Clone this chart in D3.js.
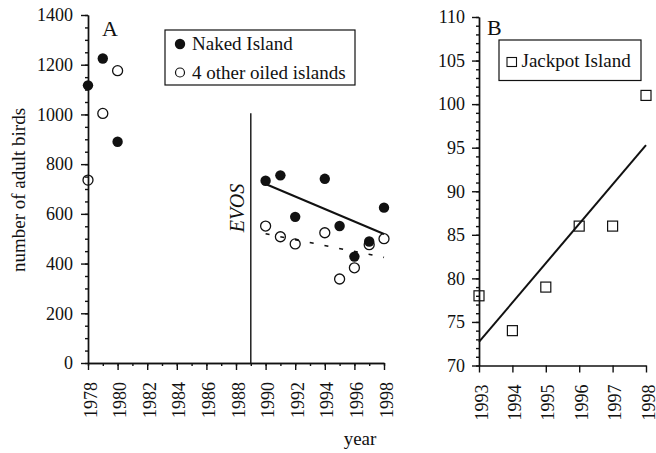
<!DOCTYPE html>
<html>
<head>
<meta charset="utf-8">
<script src="https://cdn.jsdelivr.net/npm/d3@7"></script>
<style>
  body { margin: 0; background: #fff; }
  svg text { font-family: "Liberation Serif", "Times New Roman", serif; }
  .axis path, .axis line { stroke: #111; stroke-width: 1.4; }
</style>
</head>
<body>
<div id="viz"></div>
<script>
"use strict";

// panel A: colony counts
const yearsA = [1978, 1979, 1980, 1990, 1991, 1992, 1994, 1995, 1996, 1997, 1998];
const nakedIsland = [1117, 1225, 890, 733, 755, 588, 741, 551, 428, 489, 625];
const otherOiled = [736, 1004, 1176, 551, 508, 479, 524, 338, 383, 476, 500];
const fitYearsA = [1990, 1998];
const nakedFit = [720, 519];
const otherFit = [520, 425];
const evosYear = 1989;
const evosTop = 1005;
const xTicksA = [1978, 1980, 1982, 1984, 1986, 1988, 1990, 1992, 1994, 1996, 1998];
const yTicksA = [0, 200, 400, 600, 800, 1000, 1200, 1400];

// panel B: Jackpot Island
const yearsB = [1993, 1994, 1995, 1996, 1997, 1998];
const jackpot = [78, 74, 79, 86, 86, 101];
const fitYearsB = [1993, 1998];
const jackpotFit = [72.7, 95.3];
const yTicksB = [70, 75, 80, 85, 90, 95, 100, 105, 110];

const serif = '"Liberation Serif", "Times New Roman", serif';

let width = 656;
let height = 453;

let svg = d3.select('#viz')
            .append('svg')
            .attr('width', width)
            .attr('height', height)
            .attr('font-family', serif);

// scales
let xA = d3.scaleLinear().domain([1978, 1998]).range([88, 384]);
let yA = d3.scaleLinear().domain([0, 1400]).range([363, 15]);
let xB = d3.scaleLinear().domain([1993, 1998]).range([479, 646]);
let yB = d3.scaleLinear().domain([70, 110]).range([365.5, 17]);

function rotateLabels(g) {
    g.selectAll('text')
     .attr('transform', 'rotate(-90)')
     .attr('text-anchor', 'end')
     .attr('x', -19)
     .attr('y', 0)
     .attr('dy', '0.45em');
}

function axisG(tx, ty) {
    return svg.append('g').attr('class', 'axis')
              .attr('transform', `translate(${tx},${ty})`);
}

// ----- panel A axes -----
axisG(0, 363)
   .call(d3.axisBottom(xA).tickValues(d3.range(1978, 1999, 1)).tickSize(3).tickSizeOuter(0).tickFormat(''));
axisG(0, 363)
   .call(d3.axisBottom(xA).tickValues(xTicksA).tickSize(7).tickSizeOuter(0).tickFormat(d3.format('d')))
   .call(rotateLabels);
axisG(88, 0)
   .call(d3.axisLeft(yA).tickValues(d3.range(0, 1401, 50)).tickSize(3).tickSizeOuter(0).tickFormat(''));
axisG(88, 0)
   .call(d3.axisLeft(yA).tickValues(yTicksA).tickSize(7).tickPadding(8).tickSizeOuter(0).tickFormat(d3.format('d')));

// ----- panel B axes -----
axisG(0, 365.5)
   .call(d3.axisBottom(xB).tickValues(yearsB).tickSize(7).tickSizeOuter(0).tickFormat(d3.format('d')))
   .call(rotateLabels);
axisG(479, 0)
   .call(d3.axisLeft(yB).tickValues(d3.range(70, 111, 1)).tickSize(3).tickSizeOuter(0).tickFormat(''));
axisG(479, 0)
   .call(d3.axisLeft(yB).tickValues(yTicksB).tickSize(7).tickPadding(7).tickSizeOuter(0).tickFormat(d3.format('d')));

svg.selectAll('.axis')
   .attr('font-family', serif)
   .attr('font-size', 18);
svg.selectAll('.axis text')
   .style('font-family', serif)
   .style('font-size', '18px')
   .attr('fill', '#111');
svg.selectAll('.axis .domain').attr('stroke-width', 1.6);

// EVOS marker
svg.append('line')
   .attr('x1', xA(evosYear)).attr('x2', xA(evosYear))
   .attr('y1', yA(0)).attr('y2', yA(evosTop))
   .attr('stroke', '#111').attr('stroke-width', 1.4);
svg.append('text')
   .attr('transform', `translate(${xA(evosYear) - 7},${yA(0) - 155}) rotate(-90)`)
   .attr('text-anchor', 'middle')
   .attr('font-size', '20px')
   .attr('font-style', 'italic')
   .attr('fill', '#111')
   .text('EVOS');

// regression lines, panel A
let lineA = d3.line().x(d => xA(d[0])).y(d => yA(d[1]));
svg.append('path')
   .attr('d', lineA(d3.zip(fitYearsA, nakedFit)))
   .attr('fill', 'none').attr('stroke', '#111').attr('stroke-width', 2);

// points, panel A
let ptsA = yearsA.map((y, i) => ({year: y, naked: nakedIsland[i], other: otherOiled[i]}));

svg.selectAll('circle.naked')
   .data(ptsA)
   .enter()
   .append('circle')
   .attr('class', 'naked')
   .attr('cx', d => xA(d.year))
   .attr('cy', d => yA(d.naked))
   .attr('r', 5.2)
   .attr('fill', '#111');

svg.selectAll('circle.other')
   .data(ptsA)
   .enter()
   .append('circle')
   .attr('class', 'other')
   .attr('cx', d => xA(d.year))
   .attr('cy', d => yA(d.other))
   .attr('r', 5)
   .attr('fill', 'none')
   .attr('stroke', '#111')
   .attr('stroke-width', 1.3);

svg.append('path')
   .attr('d', lineA(d3.zip(fitYearsA, otherFit)))
   .attr('fill', 'none').attr('stroke', '#111').attr('stroke-width', 1.6)
   .attr('stroke-dasharray', '4,11');

// panel B points and fit
let lineB = d3.line().x(d => xB(d[0])).y(d => yB(d[1]));
svg.append('path')
   .attr('d', lineB(d3.zip(fitYearsB, jackpotFit)))
   .attr('fill', 'none').attr('stroke', '#111').attr('stroke-width', 2);

svg.selectAll('rect.jackpot')
   .data(d3.zip(yearsB, jackpot))
   .enter()
   .append('rect')
   .attr('class', 'jackpot')
   .attr('x', d => xB(d[0]) - 5)
   .attr('y', d => yB(d[1]) - 5)
   .attr('width', 10)
   .attr('height', 10)
   .attr('fill', 'none')
   .attr('stroke', '#111')
   .attr('stroke-width', 1.2);

// panel letters
svg.append('text').attr('x', 102).attr('y', 36)
   .attr('font-size', '22px').attr('fill', '#111').text('A');
svg.append('text').attr('x', 487).attr('y', 35)
   .attr('font-size', '22px').attr('fill', '#111').text('B');

// legend A
svg.append('rect').attr('x', 165).attr('y', 30).attr('width', 190).attr('height', 55)
   .attr('fill', 'none').attr('stroke', '#111').attr('stroke-width', 1.2);
svg.append('circle').attr('cx', 180).attr('cy', 44).attr('r', 5.2).attr('fill', '#111');
svg.append('circle').attr('cx', 180).attr('cy', 72.5).attr('r', 4.5)
   .attr('fill', 'none').attr('stroke', '#111').attr('stroke-width', 1.2);
svg.append('text').attr('x', 192).attr('y', 49.5)
   .attr('font-size', '19px').attr('fill', '#111').text('Naked Island');
svg.append('text').attr('x', 192).attr('y', 78.5)
   .attr('font-size', '19px').attr('fill', '#111').text('4 other oiled islands');

// legend B
svg.append('rect').attr('x', 499).attr('y', 40).attr('width', 142).attr('height', 40.5)
   .attr('fill', 'none').attr('stroke', '#111').attr('stroke-width', 1.2);
svg.append('rect').attr('x', 507).attr('y', 57.5).attr('width', 9.5).attr('height', 9)
   .attr('fill', 'none').attr('stroke', '#111').attr('stroke-width', 1.1);
svg.append('text').attr('x', 521.5).attr('y', 66.5)
   .attr('font-size', '19px').attr('fill', '#111').text('Jackpot Island');

// axis titles
svg.append('text')
   .attr('transform', 'translate(25,190) rotate(-90)')
   .attr('text-anchor', 'middle')
   .attr('font-size', '19px').attr('fill', '#111')
   .text('number of adult birds');
svg.append('text')
   .attr('x', 360).attr('y', 445)
   .attr('text-anchor', 'middle')
   .attr('font-size', '19px').attr('fill', '#111')
   .text('year');
</script>
</body>
</html>
